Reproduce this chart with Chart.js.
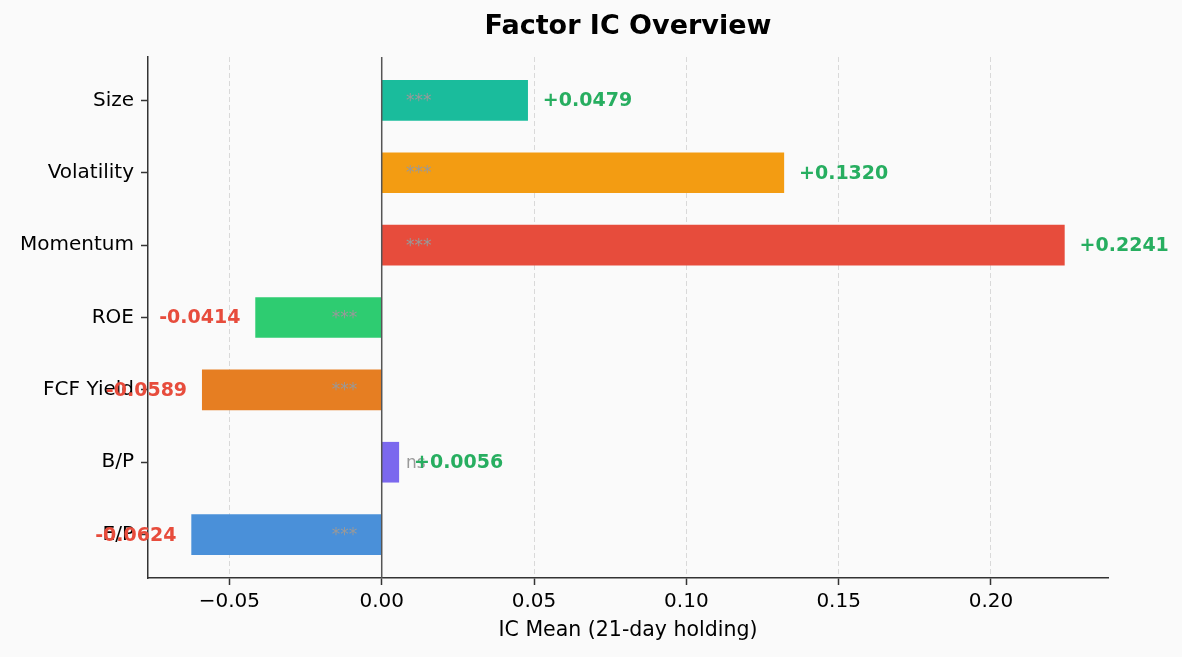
<!DOCTYPE html>
<html>
<head>
<meta charset="utf-8">
<script src="https://cdn.jsdelivr.net/npm/chart.js@4.4.1/dist/chart.umd.min.js"></script>
<style>
html, body { margin: 0; padding: 0; background: #fafafa; }
#wrap { width: 1182px; height: 657px; position: relative; }
</style>
</head>
<body>
<div id="wrap"><canvas id="icChart"></canvas></div>
<script>
// data, top to bottom
const factors = ['Size', 'Volatility', 'Momentum', 'ROE', 'FCF Yield', 'B/P', 'E/P'];
const icMean = [0.0479, 0.1320, 0.2241, -0.0414, -0.0589, 0.0056, -0.0624];
const significance = ['***', '***', '***', '***', '***', 'ns', '***'];
const barColors = ['#1abc9c', '#f39c12', '#e74c3c', '#2ecc71', '#e67e22', '#7b68ee', '#4a90d9'];
const xTicks = [-0.05, 0.00, 0.05, 0.10, 0.15, 0.20];

const FONT = '"DejaVu Sans", Verdana, sans-serif';

// matplotlib-like 5% margins
const lo = Math.min(...icMean), hi = Math.max(...icMean);
const pad = (hi - lo) * 0.05;

const annotate = {
    id: 'annotate',
    afterDraw(chart) {
        const { ctx, chartArea, scales: { x, y } } = chart;
        ctx.save();
        // zero line
        const x0 = x.getPixelForValue(0);
        ctx.strokeStyle = '#555';
        ctx.lineWidth = 1.5;
        ctx.beginPath();
        ctx.moveTo(x0, chartArea.top);
        ctx.lineTo(x0, chartArea.bottom);
        ctx.stroke();

        ctx.textBaseline = 'middle';
        icMean.forEach((v, i) => {
            const py = y.getPixelForValue(i) + 1;
            const pos = v >= 0;
            // significance stars
            ctx.font = '17px ' + FONT;
            ctx.fillStyle = '#999999';
            ctx.textAlign = pos ? 'left' : 'right';
            ctx.fillText(significance[i], x.getPixelForValue(pos ? 0.008 : -0.008), py);
            // value label
            ctx.font = 'bold 19px ' + FONT;
            ctx.fillStyle = pos ? '#27ae60' : '#e74c3c';
            const txt = (pos ? '+' : '') + v.toFixed(4);
            ctx.fillText(txt, x.getPixelForValue(v + (pos ? 0.005 : -0.005)), py);
        });

        // title and axis label
        const cx = (chartArea.left + chartArea.right) / 2;
        ctx.textAlign = 'center';
        ctx.fillStyle = '#000';
        ctx.font = 'bold 27px ' + FONT;
        ctx.fillText('Factor IC Overview', cx, 27);
        ctx.font = '20.5px ' + FONT;
        ctx.fillText('IC Mean (21-day holding)', cx, 631);
        ctx.restore();
    }
};

const ctx = document.getElementById('icChart').getContext('2d');
const icChart = new Chart(ctx, {
    type: 'bar',
    data: {
        datasets: [{
            data: icMean.map((v, i) => ({ x: v, y: i })),
            backgroundColor: barColors,
            borderWidth: 0,
            barThickness: 40
        }]
    },
    options: {
        indexAxis: 'y',
        responsive: true,
        maintainAspectRatio: false,
        animation: false,
        layout: { padding: { top: 57, right: 74, bottom: 0, left: 0 } },
        plugins: {
            legend: { display: false },
            title: { display: false },
            tooltip: { enabled: false }
        },
        scales: {
            x: {
                type: 'linear',
                min: lo - pad,
                max: hi + pad,
                afterBuildTicks: (scale) => { scale.ticks = xTicks.map(v => ({ value: v })); },
                afterFit: (scale) => { scale.height = 79; },
                ticks: {
                    color: '#000',
                    font: { family: FONT, size: 20 },
                    padding: 5,
                    maxRotation: 0,
                    callback: (v) => v.toFixed(2).replace('-', '\u2212')
                },
                grid: {
                    color: 'rgba(0,0,0,0.13)',
                    lineWidth: 1,
                    drawTicks: true,
                    tickLength: 7,
                    tickColor: '#333',
                    tickWidth: 1.5,
                    tickBorderDash: []
                },
                border: { color: '#333', width: 1.5, dash: [5, 3] }
            },
            y: {
                type: 'linear',
                reverse: true,
                offset: false,
                min: -0.6,
                max: 6.6,
                afterBuildTicks: (scale) => { scale.ticks = factors.map((f, i) => ({ value: i })); },
                afterFit: (scale) => { scale.width = 148; },
                ticks: {
                    color: '#000',
                    font: { family: FONT, size: 20 },
                    padding: 7,
                    callback: (v) => factors[v]
                },
                grid: {
                    offset: false,
                    drawOnChartArea: false,
                    drawTicks: true,
                    tickLength: 7,
                    tickColor: '#333',
                    tickWidth: 1.5
                },
                border: { color: '#333', width: 1.5 }
            }
        }
    },
    plugins: [annotate]
});
</script>
</body>
</html>
